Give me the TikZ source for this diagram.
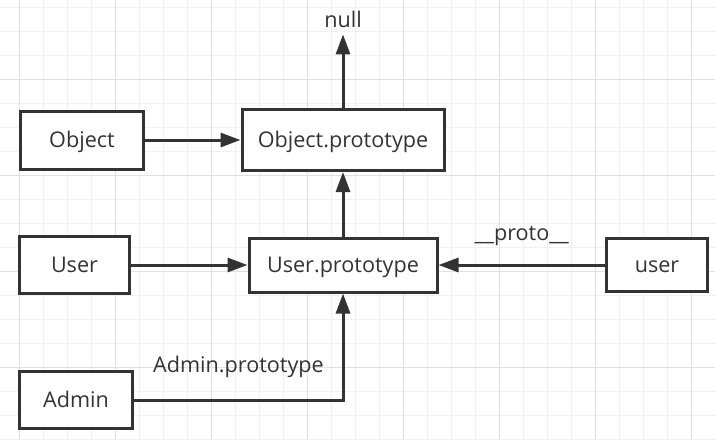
\documentclass[tikz,border=0pt]{standalone}
\usepackage{fontspec}
\setmainfont{Open Sans}
\usetikzlibrary{arrows.meta}

\begin{document}
\begin{tikzpicture}[x=0.5pt, y=-0.5pt,
  box/.style={draw=lineDark, line width=1.5pt, fill=white, text=lineDark,
    font=\fontsize{10.8}{12}\selectfont, inner sep=0pt, text height=9.5pt, text depth=2.5pt},
  link/.style={draw=lineDark, line width=1.5pt, -{Triangle[length=10pt,width=7pt]}},
  lbl/.style={text=lineDark, font=\fontsize{10.8}{12}\selectfont}]

% Colori
\definecolor{lineDark}{HTML}{333333}
\definecolor{gridMinor}{HTML}{F0F0F0}
\definecolor{gridMajor}{HTML}{E0E0E0}

% Area del disegno
\useasboundingbox (0,0) rectangle (715,439);
\fill[white] (0,0) rectangle (715,439);

% Griglia
\foreach \x in {19,43,...,715} \draw[gridMinor, line width=0.5pt] (\x,0) -- (\x,439);
\foreach \y in {7,31,...,439} \draw[gridMinor, line width=0.5pt] (0,\y) -- (715,\y);
\foreach \x in {19,115,...,715} \draw[gridMajor, line width=0.5pt] (\x,0) -- (\x,439);
\foreach \y in {79,175,...,439} \draw[gridMajor, line width=0.5pt] (0,\y) -- (715,\y);

% Nodi
\node[lbl] (nul) at (343,19) {null};
\node[box, minimum width=61.5pt, minimum height=29pt] (obj) at (82,140) {Object};
\node[box, minimum width=101pt, minimum height=30.5pt] (objProto) at (343,140) {Object.prototype};
\node[box, minimum width=55pt, minimum height=28.5pt] (usr) at (74.5,265) {User};
\node[box, minimum width=94pt, minimum height=27pt] (usrProto) at (343,265) {User.prototype};
\node[box, minimum width=50.5pt, minimum height=26.5pt] (usrInst) at (657,265) {user};
\node[box, minimum width=56.5pt, minimum height=28.5pt] (adm) at (76,400) {Admin};

% Collegamenti
\draw[link] (objProto) -- (nul);
\draw[link] (obj) -- (objProto);
\draw[link] (usrProto) -- (objProto);
\draw[link] (usr) -- (usrProto);
\draw[link] (usrInst) -- node[lbl, midway, yshift=14.5pt] {\_\_proto\_\_} (usrProto);
\draw[link] (adm) -| node[lbl, pos=0.25, yshift=16.5pt] {Admin.prototype} (usrProto);
\end{tikzpicture}
\end{document}
